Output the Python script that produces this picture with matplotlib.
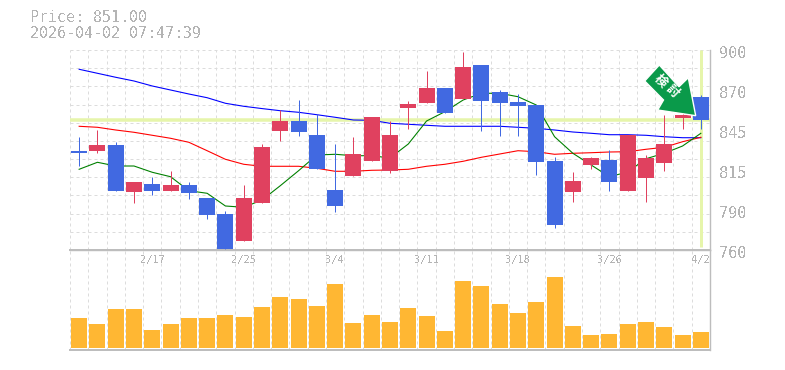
import matplotlib
matplotlib.use('Agg')
import matplotlib.pyplot as plt
from matplotlib.patches import Polygon, Rectangle
import numpy as np

plt.rcParams['font.family'] = ['DejaVu Sans Mono', 'Noto Sans CJK JP']
plt.rcParams['text.antialiased'] = False

W, H = 785, 370

opens = [828.0, 829.3, 833.5, 800.6, 806.2, 801.3, 805.5, 796.4, 785.2, 766.3, 792.9, 843.3,
         850.3, 840.5, 802.0, 811.8, 822.3, 815.3, 859.4, 862.9, 873.4, 865.7, 889.5, 870.6,
         863.6, 861.5, 822.3, 800.6, 819.5, 823.0, 801.3, 810.4, 820.9, 852.4, 867.1]
closes = [829.3, 833.5, 801.3, 807.6, 801.3, 805.5, 799.9, 784.5, 760.7, 796.4, 832.1, 850.3,
          842.6, 816.7, 790.8, 827.2, 853.1, 840.5, 862.2, 873.4, 855.9, 888.1, 864.3, 862.9,
          860.8, 821.6, 777.5, 808.3, 824.4, 807.6, 840.5, 824.4, 834.2, 854.5, 851.0]
highs = [839.1, 844.0, 835.6, 807.6, 811.1, 815.3, 807.6, 796.4, 787.3, 805.5, 834.2, 858.0,
         865.0, 855.2, 834.2, 839.1, 853.1, 850.3, 864.3, 885.3, 873.4, 898.6, 889.5, 872.0,
         869.2, 861.5, 825.1, 814.6, 825.1, 830.0, 840.5, 826.5, 854.5, 856.0, 868.5]
lows = [818.8, 827.9, 801.3, 792.9, 798.5, 801.3, 795.7, 781.7, 760.7, 766.3, 792.9, 836.3,
        839.8, 816.7, 786.6, 811.8, 822.3, 813.9, 844.7, 862.9, 855.9, 865.7, 843.3, 839.8,
        839.8, 812.5, 775.4, 793.6, 816.7, 801.3, 801.3, 793.6, 815.3, 844.7, 844.7]
# colour is taken from the picture, not from open/close
is_blue = [1, 0, 1, 0, 1, 0, 1, 1, 1, 0, 0, 0, 1, 1, 1, 0, 0, 0, 0, 0, 1, 0, 1, 1, 1, 1, 1, 0, 0, 1, 0, 0, 0, 0, 1]

ma_blue = [886.5, 883.7, 880.9, 878.3, 874.8, 872.0, 869.2, 866.6, 862.7, 860.6, 859.0, 857.5,
           856.4, 854.7, 852.9, 851.0, 850.8, 848.7, 848.0, 847.3, 846.6, 846.6, 846.6, 846.6,
           845.9, 845.2, 844.0, 842.6, 841.7, 840.7, 840.7, 840.3, 839.3, 838.6, 838.6]
ma_red = [846.6, 845.9, 844.0, 842.4, 840.3, 838.2, 835.4, 829.5, 823.5, 820.0, 818.6, 818.6,
          818.6, 817.2, 815.1, 815.1, 815.8, 816.0, 816.5, 818.6, 820.0, 822.1, 824.9, 827.2,
          829.5, 828.8, 827.0, 827.7, 828.1, 828.6, 828.8, 830.5, 831.9, 835.8, 838.9]
ma_green = [816.5, 821.4, 818.8, 818.8, 814.4, 811.3, 801.5, 799.7, 790.8, 789.9, 795.0, 805.0,
            815.5, 826.5, 827.0, 826.0, 826.0, 824.4, 834.2, 850.3, 856.8, 865.0, 869.7, 869.7,
            867.3, 861.5, 839.3, 827.7, 819.5, 811.3, 814.6, 823.9, 827.7, 832.8, 841.7]
volumes = [30, 24, 39, 39, 18, 24, 30, 30, 33, 31, 41, 51, 49, 42, 64, 25, 33, 26,
           40, 32, 17, 67, 62, 44, 35, 46, 71, 22, 13, 14, 24, 26, 21, 13, 16]

price_ticks = [900, 870, 845, 815, 790, 760]
date_pos = [4, 9, 14, 19, 24, 29, 34]
date_labels = ['2/17', '2/25', '3/4', '3/11', '3/18', '3/26', '4/2']
price_now = 851.00
stamp = '2026-04-02 07:47:39'

GREY = '#bdbdbd'
TEXT = '#b4b4b4'
GRID = '#dcdcdc'
BLUE = '#4169e1'
RED = '#e0415f'
HILITE = '#e6f5ab'
PX = 0.72  # one pixel in points

fig = plt.figure(figsize=(W / 100, H / 100), dpi=100)


def box(x0, y0, x1, y1):
    return [x0 / W, 1 - y1 / H, (x1 - x0) / W, (y1 - y0) / H]


ax = fig.add_axes(box(70, 50, 710, 250))
ax2 = fig.add_axes(box(70, 250, 710, 350))
n = len(opens)
x = np.arange(n) + 0.5

for a in (ax, ax2):
    a.set_xlim(0, n)
    a.set_xticks(np.arange(n + 1))
    a.tick_params(length=0, labelbottom=False, labelleft=False)
    a.grid(axis='x', color=GRID, linestyle=(0, (3, 3)), linewidth=PX)
    a.set_axisbelow(True)
    for s in a.spines.values():
        s.set_visible(False)
    a.spines['right'].set_visible(True)
    a.spines['right'].set_color(GREY)
    a.spines['right'].set_linewidth(PX * 1.4)
    a.spines['bottom'].set_visible(True)
    a.spines['bottom'].set_color(GREY)
    a.spines['bottom'].set_linewidth(PX * 2)

# price panel
ax.set_ylim(760, 900)
ax.set_yticks(np.linspace(760, 900, 12))
ax.grid(axis='y', color=GRID, linestyle=(0, (3, 3)), linewidth=PX)
ax.axhline(price_now, color=HILITE, linewidth=PX * 3.5, zorder=1.5)
ax.plot([x[-1], x[-1]], [762, 900], color=HILITE, linewidth=PX * 3, zorder=1.5, solid_capstyle='butt')

ax.plot(x, ma_blue, color='#0000ff', linewidth=PX * 1.1, zorder=2)
ax.plot(x, ma_red, color='#ff0000', linewidth=PX * 1.1, zorder=2)
ax.plot(x, ma_green, color='#008000', linewidth=PX * 1.1, zorder=2)

for i in range(n):
    c = BLUE if is_blue[i] else RED
    ax.plot([x[i], x[i]], [lows[i], highs[i]], color=c, linewidth=PX, zorder=3, solid_capstyle='butt')
    bottom = min(opens[i], closes[i])
    ax.add_patch(Rectangle((x[i] - 0.44, bottom), 0.88, abs(closes[i] - opens[i]),
                           facecolor=c, edgecolor='none', zorder=3))

for i, t in enumerate(price_ticks):
    fig.text(719 / W, 1 - (53 + 40 * i) / H, str(t), color=TEXT, fontsize=11, va='center', ha='left')

# volume panel
ax2.set_ylim(-2, 98)
ax2.set_yticks([])
ax2.bar(x, volumes, width=0.88, color='#ffb733', zorder=3)
ax2.spines['top'].set_visible(True)
ax2.spines['top'].set_color(GREY)
ax2.spines['top'].set_linewidth(PX * 1.4)
for p, lab in zip(date_pos, date_labels):
    ax2.text(x[p], 88, lab, color=TEXT, fontsize=7.5, ha='center', va='center', zorder=4)

# header
fig.text(30 / W, 1 - 18 / H, f'Price: {price_now:.2f}', color=TEXT, fontsize=10.8, va='center')
fig.text(30 / W, 1 - 33 / H, stamp, color=TEXT, fontsize=10.8, va='center')

# arrow badge
arrow_px = [(659.3, 65), (644.7, 81), (663.5, 100), (657.7, 110), (695.7, 115.7), (688.3, 77.7), (679, 86.7)]
fig.add_artist(Polygon([(px / W, 1 - py / H) for px, py in arrow_px], closed=True, transform=fig.transFigure,
                       facecolor='#0a9a4a', edgecolor='white', linewidth=1.0, zorder=6))
fig.text(660 / W, 1 - 81 / H, '検', color='white', fontsize=9, fontweight='bold', rotation=-45,
         ha='center', va='center', zorder=7, antialiased=True)
fig.text(672.5 / W, 1 - 91 / H, '討', color='white', fontsize=9, fontweight='bold', rotation=-45,
         ha='center', va='center', zorder=7, antialiased=True)

fig.savefig('out.png', dpi=100)
